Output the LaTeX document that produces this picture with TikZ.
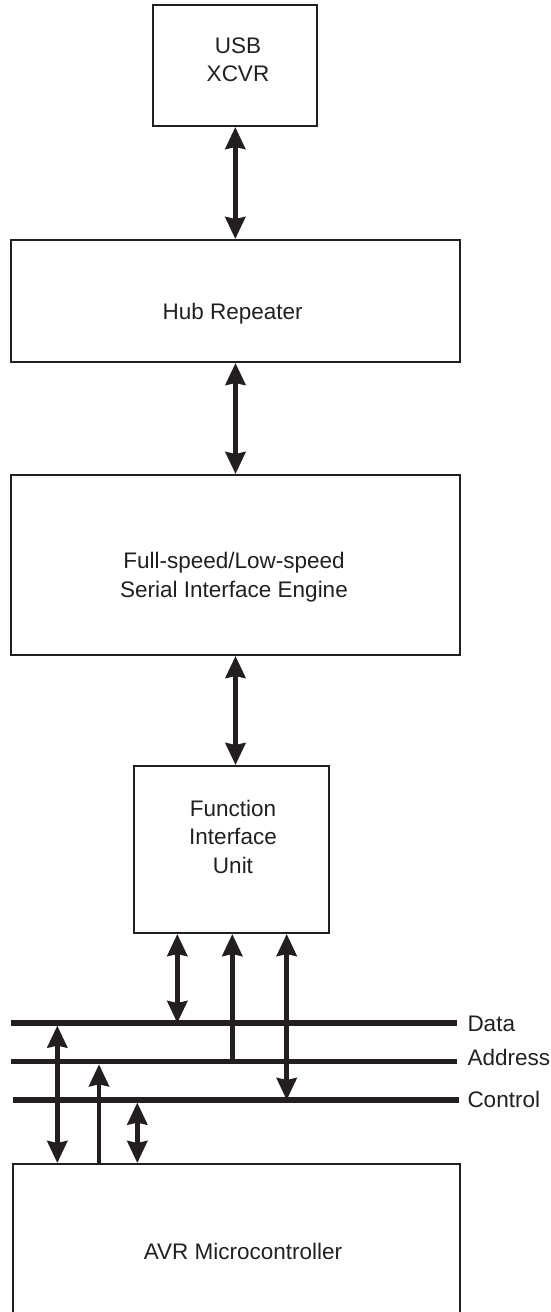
\documentclass[tikz,border=0pt]{standalone}
\usepackage{fontspec}
\setmainfont{Liberation Sans}
\usepackage{tikz}
\usetikzlibrary{arrows.meta}
\definecolor{ink}{RGB}{35,31,32}

\tikzset{
  blk/.style={draw=ink, line width=2pt, inner sep=0pt},
  lbl/.style={text=ink, font=\fontsize{22.5}{28.5}\selectfont, align=center, anchor=base, inner sep=0pt},
  buslabel/.style={lbl, anchor=base west},
  bus/.style={draw=ink, line width=5.3pt},
  wire/.style={draw=ink, line width=4.5pt},
  >={Stealth[length=22pt,width=20pt,inset=2pt]}
}

\begin{document}
\begin{tikzpicture}[x=1pt, y=-1pt]
        \clip (0,0) rectangle (551,1312);

        % Blocks
        \node[blk, minimum width=164, minimum height=121] (usb) at (235.3,65.5) {};
        \node[blk, minimum width=449, minimum height=122] (hub) at (235.5,301) {};
        \node[blk, minimum width=449, minimum height=180] (sie) at (235.5,565) {};
        \node[blk, minimum width=195, minimum height=167] (fiu) at (231.5,849.5) {};
        \node[blk, minimum width=447.3, minimum height=176] (avr) at (236.35,1252) {};

        % Names of blocks (base = last line)
        \node[lbl] (usbtext) at (238,81.7) {USB\\XCVR};
        \node[lbl] (hubtext) at (232.7,319.3) {Hub Repeater};
        \node[lbl] (sietext) at (234,597.3) {Full-speed/Low-speed\\Serial Interface Engine};
        \node[lbl] (fiutext) at (233,873) {Function\\Interface\\Unit};
        \node[lbl] (avrtext) at (243,1259) {AVR Microcontroller};

        % arrows between the blocks
        \draw[wire,<->] (usb.south) -- (usb.south |- hub.north);
        \draw[wire,<->] (hub.south) -- (hub.south |- sie.north);
        \draw[wire,<->] (sie.south) -- (sie.south |- fiu.north);

        % bus lines
        \coordinate (dataw) at (10.7,1023);
        \coordinate (datae) at (457,1023);
        \coordinate (addrw) at (10.7,1061.7);
        \coordinate (addre) at (457,1061.7);
        \coordinate (ctrlw) at (13.3,1100);
        \coordinate (ctrle) at (459,1100);
        \draw[bus] (dataw) -- (datae);
        \draw[bus] (addrw) -- (addre);
        \draw[bus] (ctrlw) -- (ctrle);

        \node[buslabel] (data) at (467.3,1031.7) {Data};
        \node[buslabel] (addr) at (467.3,1065) {Address};
        \node[buslabel] (ctrl) at (467.3,1107) {Control};

        % taps of the function interface unit
        \coordinate (fiud) at (177.3,1023);
        \coordinate (fiua) at (232.3,1061.7);
        \coordinate (fiuc) at (286.7,1100);
        \draw[wire,<->] (fiu.south -| fiud) -- (fiud);
        \draw[wire,<-] (fiu.south -| fiua) -- (fiua);
        \draw[wire,<->] (fiu.south -| fiuc) -- (fiuc);

        % taps of the microcontroller
        \coordinate (avrd) at (57.3,1023);
        \coordinate (avra) at (99,1061.7);
        \coordinate (avrc) at (137.3,1100);
        \draw[wire,<->,shorten <=2.6pt] (avrd) -- (avrd |- avr.north);
        \draw[wire,<-,shorten <=2.6pt] (avra) -- (avra |- avr.north);
        \draw[wire,<->,shorten <=2.6pt] (avrc) -- (avrc |- avr.north);
    \end{tikzpicture}
\end{document}
